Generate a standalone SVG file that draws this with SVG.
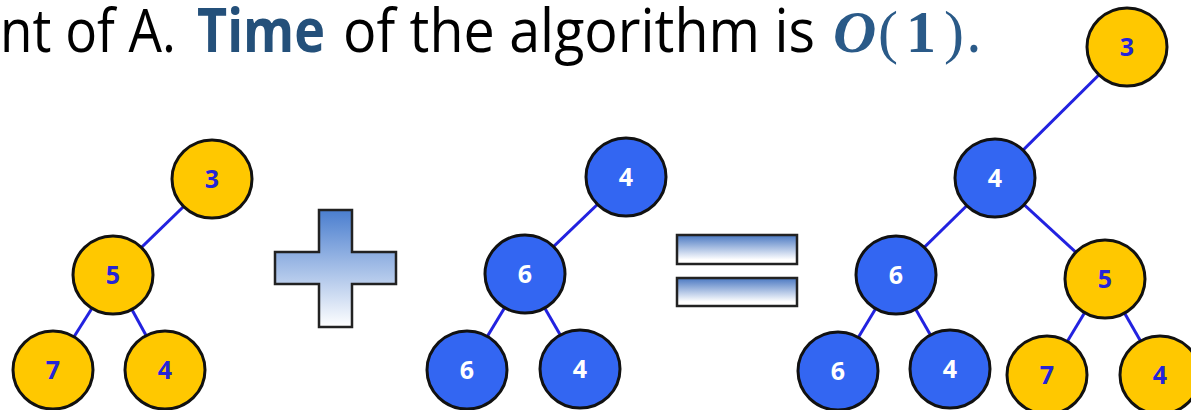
<svg xmlns="http://www.w3.org/2000/svg" width="1191" height="410" viewBox="0 0 1191 410">
<style>
.t{font-family:"Open Sans","Liberation Sans",sans-serif;font-size:60px;fill:#000}
.m{font-family:"Liberation Serif",serif;font-size:60px;fill:#2A5A88}
.y{fill:#FFC800;stroke:#111;stroke-width:3}
.b{fill:#3366F2;stroke:#111;stroke-width:3}
.ly{font-family:"Open Sans","Liberation Sans",sans-serif;font-weight:bold;font-size:25px;fill:#2424D8;text-anchor:middle}
.lb{font-family:"Open Sans","Liberation Sans",sans-serif;font-weight:bold;font-size:25px;fill:#fff;text-anchor:middle}
.e{stroke:#2222E0;stroke-width:3;fill:none}
.sym{stroke:#222;stroke-width:2.5}
</style>
<defs>
<linearGradient id="gp" x1="0" y1="0" x2="0" y2="1">
<stop offset="0" stop-color="#4A7ECF"/><stop offset="1" stop-color="#FFFFFF"/>
</linearGradient>
<linearGradient id="ge" x1="0" y1="0" x2="0" y2="1">
<stop offset="0" stop-color="#4A78C2"/><stop offset="0.85" stop-color="#FFFFFF"/>
</linearGradient>
</defs>
<g id="title">
<text class="t" x="0" y="52" textLength="176" lengthAdjust="spacingAndGlyphs">nt of A.</text>
<text class="t" x="197" y="52" textLength="128" lengthAdjust="spacingAndGlyphs" font-weight="bold" style="fill:#24507A">Time</text>
<text class="t" x="343" y="52" textLength="472" lengthAdjust="spacingAndGlyphs">of the algorithm is</text>
<text class="m" x="833" y="52" font-weight="bold" font-style="italic">O</text>
<text class="m" x="878" y="52">(</text>
<text class="m" x="906" y="52" font-weight="bold">1</text>
<text class="m" x="944" y="52">)</text>
<text class="t" x="966" y="52" style="fill:#2A5A88">.</text>
</g>
<g id="plus">
<path class="sym" fill="url(#gp)" d="M319,210 H352 V252 H396 V284 H352 V327 H319 V284 H275 V252 H319 Z"/>
</g>
<g id="equals">
<rect class="sym" fill="url(#ge)" x="677" y="235" width="120" height="29"/>
<rect class="sym" fill="url(#ge)" x="677" y="278" width="120" height="28"/>
</g>
<g id="connectors">
<line class="e" x1="212" y1="179" x2="113" y2="275"/>
<line class="e" x1="113" y1="275" x2="53" y2="370"/>
<line class="e" x1="113" y1="275" x2="165" y2="370"/>
<line class="e" x1="626" y1="177" x2="525" y2="274"/>
<line class="e" x1="525" y1="274" x2="467" y2="370"/>
<line class="e" x1="525" y1="274" x2="580" y2="369"/>
<line class="e" x1="1127" y1="47" x2="995" y2="178"/>
<line class="e" x1="995" y1="178" x2="896" y2="275"/>
<line class="e" x1="995" y1="178" x2="1105" y2="279"/>
<line class="e" x1="896" y1="275" x2="838" y2="371"/>
<line class="e" x1="896" y1="275" x2="950" y2="369"/>
<line class="e" x1="1105" y1="279" x2="1047" y2="375"/>
<line class="e" x1="1105" y1="279" x2="1160" y2="375"/>
</g>
<g id="a3"><ellipse class="y" cx="212" cy="179" rx="40" ry="39"/><text class="ly" x="212" y="188">3</text></g>
<g id="a5"><ellipse class="y" cx="113" cy="275" rx="40" ry="39"/><text class="ly" x="113" y="284">5</text></g>
<g id="a7"><ellipse class="y" cx="53" cy="370" rx="40" ry="39"/><text class="ly" x="53" y="379">7</text></g>
<g id="a4"><ellipse class="y" cx="165" cy="370" rx="40" ry="39"/><text class="ly" x="165" y="379">4</text></g>
<g id="b4"><ellipse class="b" cx="626" cy="177" rx="40" ry="39"/><text class="lb" x="626" y="186">4</text></g>
<g id="b6"><ellipse class="b" cx="525" cy="274" rx="40" ry="39"/><text class="lb" x="525" y="283">6</text></g>
<g id="b6c"><ellipse class="b" cx="467" cy="370" rx="40" ry="39"/><text class="lb" x="467" y="379">6</text></g>
<g id="b4c"><ellipse class="b" cx="580" cy="369" rx="40" ry="39"/><text class="lb" x="580" y="378">4</text></g>
<g id="r3"><ellipse class="y" cx="1127" cy="47" rx="40" ry="39"/><text class="ly" x="1127" y="56">3</text></g>
<g id="r4"><ellipse class="b" cx="995" cy="178" rx="40" ry="39"/><text class="lb" x="995" y="187">4</text></g>
<g id="r6"><ellipse class="b" cx="896" cy="275" rx="40" ry="39"/><text class="lb" x="896" y="284">6</text></g>
<g id="r5"><ellipse class="y" cx="1105" cy="279" rx="40" ry="39"/><text class="ly" x="1105" y="288">5</text></g>
<g id="r6c"><ellipse class="b" cx="838" cy="371" rx="40" ry="39"/><text class="lb" x="838" y="380">6</text></g>
<g id="r4c"><ellipse class="b" cx="950" cy="369" rx="40" ry="39"/><text class="lb" x="950" y="378">4</text></g>
<g id="r7"><ellipse class="y" cx="1047" cy="375" rx="40" ry="39"/><text class="ly" x="1047" y="384">7</text></g>
<g id="r4y"><ellipse class="y" cx="1160" cy="375" rx="40" ry="39"/><text class="ly" x="1160" y="384">4</text></g>
</svg>
